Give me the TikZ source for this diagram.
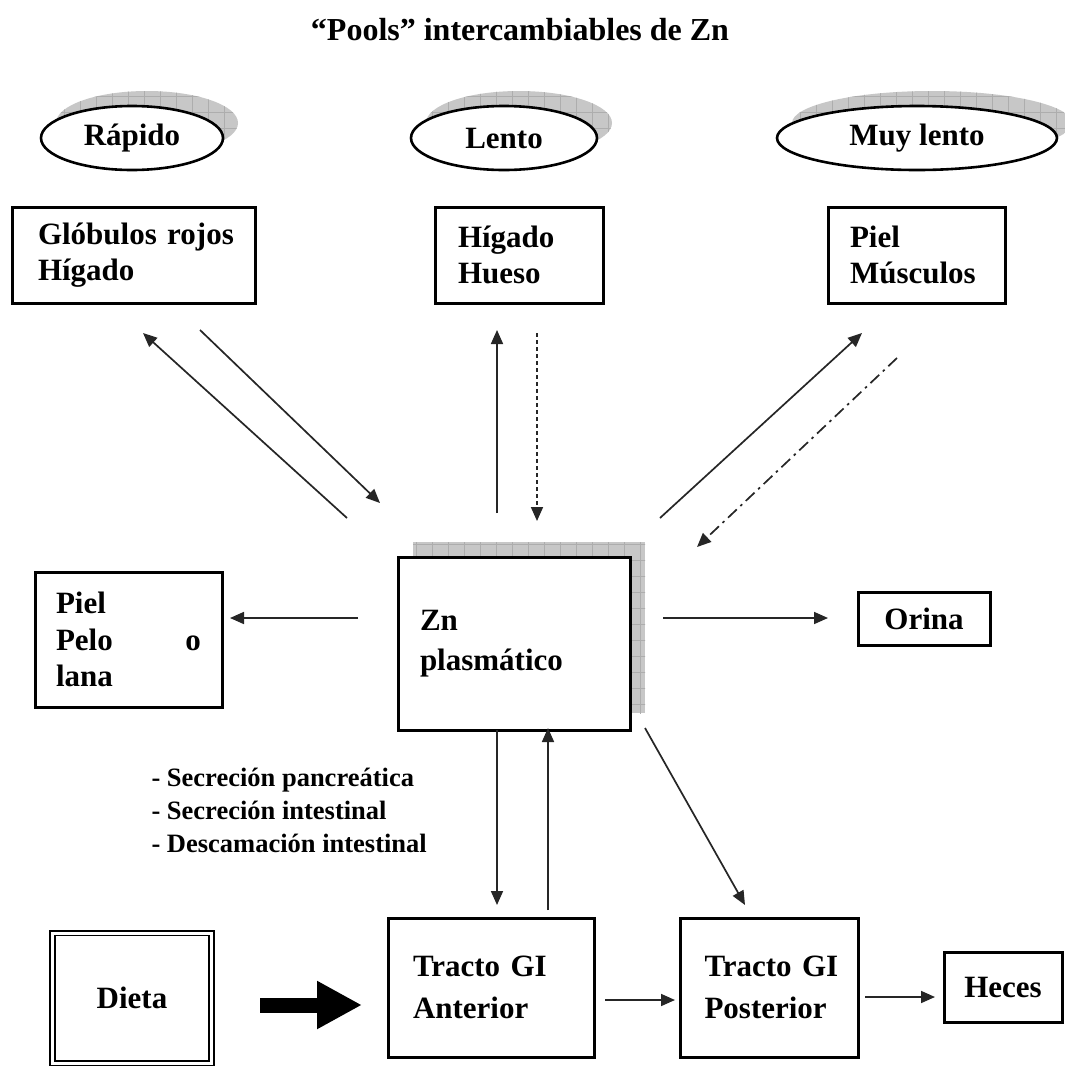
\documentclass[tikz,border=0pt]{standalone}
\usepackage{fontspec}
\setmainfont{Liberation Serif}
\usetikzlibrary{arrows.meta,shapes.geometric,calc}
\begin{document}
\begin{tikzpicture}[x=1pt,y=-1pt,
  every node/.style={font=\bfseries\fontsize{31pt}{36pt}\selectfont},
  box/.style={draw, line width=3pt, rectangle, inner sep=0pt, align=left},
  oval/.style={draw, line width=2.6pt, ellipse, inner sep=0pt, fill=white},
  arr/.style={line width=1.7pt, draw=black!85, -{Triangle[length=14pt,width=12pt]}},
  shadowfill/.style={fill=black!22},
  gridline/.style={draw=black!32, line width=0.5pt}]
\fill[white] (0,0) rectangle (1065,1069);
\useasboundingbox (0,0) rectangle (1065,1069);

% title
\node[font=\bfseries\fontsize{32pt}{36pt}\selectfont] (title) at (520,30) {“Pools” intercambiables de Zn};

% ellipse shadows
\begin{scope}
  \clip (147,123) ellipse [x radius=91pt, y radius=32pt];
  \fill[shadowfill] (0,0) rectangle (1065,300);
  \draw[gridline] (40,60) grid[step=16pt] (260,180);
\end{scope}
\begin{scope}
  \clip (519,123) ellipse [x radius=93pt, y radius=32pt];
  \fill[shadowfill] (0,0) rectangle (1065,300);
  \draw[gridline] (400,60) grid[step=16pt] (640,180);
\end{scope}
\begin{scope}
  \clip (932,123) ellipse [x radius=140pt, y radius=32pt];
  \fill[shadowfill] (0,0) rectangle (1065,300);
  \draw[gridline] (760,60) grid[step=16pt] (1080,180);
\end{scope}

% ellipses
\node[oval, minimum width=182pt, minimum height=64pt] (rap) at (132,138) {Rápido};
\node[oval, minimum width=186pt, minimum height=64pt] (len) at (504,138) {Lento};
\node[oval, minimum width=280pt, minimum height=64pt] (muy) at (917,138) {Muy lento};

% second row boxes
\node[box, minimum width=243pt, minimum height=96pt, text width=191pt] (glob) at (133.5,255) {\mbox{Glóbulos rojos}\\Hígado};
\node[box, minimum width=168pt, minimum height=96pt, text width=122pt] (hig) at (519,255) {Hígado\\Hueso};
\node[box, minimum width=177pt, minimum height=96pt, text width=133pt] (piel) at (916.5,255) {Piel\\Músculos};

% central box shadow
\begin{scope}
  \clip (413,542) rectangle (645,713);
  \fill[shadowfill] (413,542) rectangle (645,713);
  \draw[gridline] (400,530) grid[step=16pt] (660,720);
\end{scope}
\node[box, fill=white, minimum width=232pt, minimum height=173pt, text width=188pt,
      font=\bfseries\fontsize{31pt}{40pt}\selectfont] (zn) at (514,643.5) {Zn\\plasmático};

% side boxes
\node[box, minimum width=187pt, minimum height=135pt, text width=145pt,
      font=\bfseries\fontsize{31pt}{36.5pt}\selectfont] (pelo) at (128.5,639.5) {Piel\\Pelo\hfill o\\lana};
\node[box, align=center, minimum width=132pt, minimum height=53pt] (orina) at (924,618.5) {Orina};

% list text
\node[anchor=west, align=left, font=\bfseries\fontsize{26.5pt}{33pt}\selectfont] (lista) at (148,810)
  {- Secreción pancreática\\- Secreción intestinal\\- Descamación intestinal};

% bottom row
\node[draw, line width=1.9pt, double, double distance=3pt, inner sep=0pt,
      minimum width=159pt, minimum height=130pt] (dieta) at (132,998) {Dieta};
\node[box, minimum width=206pt, minimum height=139pt, text width=156pt,
      font=\bfseries\fontsize{31pt}{42pt}\selectfont] (ant) at (491,987.5) {\mbox{Tracto GI}\\Anterior};
\node[box, minimum width=178pt, minimum height=139pt, text width=129pt,
      font=\bfseries\fontsize{31pt}{42pt}\selectfont] (post) at (769,987.5) {\mbox{Tracto GI}\\Posterior};
\node[box, align=center, minimum width=118pt, minimum height=70pt] (heces) at (1003,987) {Heces};

% connector end points
\coordinate (a1s) at (200,330); \coordinate (a1e) at (380,503);
\coordinate (a2s) at (347,518); \coordinate (a2e) at (143,333);
\coordinate (a3s) at (497,513); \coordinate (a3e) at (497,330);
\coordinate (a4s) at (537,333); \coordinate (a4e) at (537,521);
\coordinate (a5s) at (660,518); \coordinate (a5e) at (862,333);
\coordinate (a6s) at (897,358); \coordinate (a6e) at (697,547);
\coordinate (a7s) at (358,618); \coordinate (a7e) at (230,618);
\coordinate (a8s) at (663,618); \coordinate (a8e) at (828,618);
\coordinate (a9s) at (497,730); \coordinate (a9e) at (497,905);
\coordinate (a10s) at (548,910); \coordinate (a10e) at (548,728);
\coordinate (a11s) at (645,728); \coordinate (a11e) at (745,905);
\coordinate (a12s) at (605,1000); \coordinate (a12e) at (675,1000);
\coordinate (a13s) at (865,997); \coordinate (a13e) at (935,997);
\coordinate (bigs) at (260,1005); \coordinate (bige) at (362,1005);

\draw[arr] (a1s) -- (a1e);
\draw[arr] (a2s) -- (a2e);
\draw[arr] (a3s) -- (a3e);
\draw[arr, dash pattern=on 4pt off 3pt] (a4s) -- (a4e);
\draw[arr] (a5s) -- (a5e);
\draw[arr, dash pattern=on 12pt off 5pt on 2.5pt off 5pt] (a6s) -- (a6e);
\draw[arr] (a7s) -- (a7e);
\draw[arr] (a8s) -- (a8e);
\draw[arr] (a9s) -- (a9e);
\draw[arr] (a10s) -- (a10e);
\draw[arr] (a11s) -- (a11e);
\draw[arr] (a12s) -- (a12e);
\draw[arr] (a13s) -- (a13e);
\draw[line width=15pt, -{Triangle[length=45pt,width=45pt]}] (bigs) -- (bige);
\end{tikzpicture}
\end{document}
